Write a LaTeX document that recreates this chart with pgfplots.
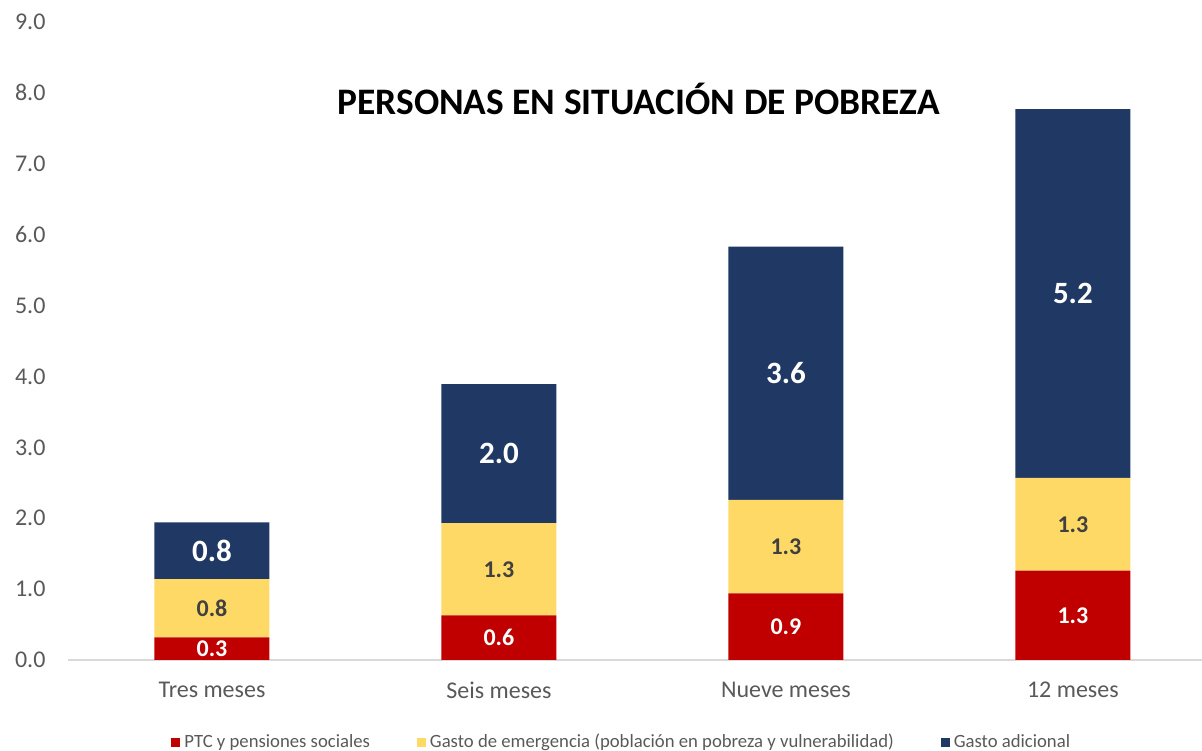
\documentclass[border=0pt]{standalone}
\usepackage{fontspec}
\setmainfont{Carlito}
\usepackage{pgfplots}
\usepackage{pgfplotstable}
\pgfplotsset{compat=1.18}
\definecolor{cred}{HTML}{C00000}
\definecolor{cyel}{HTML}{FFD966}
\definecolor{cnavy}{HTML}{203864}
\definecolor{ctxt}{HTML}{595959}
\definecolor{cdark}{HTML}{404040}
\definecolor{cgrid}{HTML}{D9D9D9}

% columns: a = PTC y pensiones, b = gasto de emergencia, c = gasto adicional
\pgfplotstableread{
x a b c
0 0.32 0.82 0.80
1 0.63 1.30 1.96
2 0.94 1.32 3.57
3 1.26 1.31 5.20
}\pobreza

\pgfplotsset{
  sq/.style={legend image code/.code={\fill[##1,draw=none] (0pt,-2.25pt) rectangle (4.5pt,2.25pt);}},
}

\begin{document}
\begin{tikzpicture}
\begin{axis}[name=ax,
  ybar stacked, bar width=57.5pt,
  scale only axis, width=566.75pt, height=319pt,
  xmin=-0.5, xmax=3.45, ymin=0, ymax=9, enlargelimits=false,
  xtick=data, xticklabels={Tres meses,Seis meses,Nueve meses,12 meses},
  ytick={0,1,...,9},
  yticklabel={\pgfmathprintnumber[fixed,fixed zerofill,precision=1]{\tick}},
  /pgf/number format/assume math mode=true,
  major tick length=0pt,
  axis x line*=bottom, axis y line*=left,
  x axis line style={cgrid,line width=0.75pt},
  y axis line style={draw=none},
  tick label style={text=ctxt,font=\fontsize{12}{14}\selectfont},
  xticklabel style={anchor=center,yshift=-15pt},
  yticklabel style={xshift=-8pt},
  title={PERSONAS EN SITUACIÓN DE POBREZA},
  title style={at={(0.503,0.860)},anchor=center,font=\bfseries\fontsize{18.7}{22}\selectfont},
  legend style={at={(0.489,-0.129)},anchor=center,draw=none,fill=none,
    legend columns=3,font=\fontsize{9.35}{11}\selectfont,text=ctxt,
    /tikz/every even column/.append style={column sep=21.5pt}},
  point meta=explicit symbolic,
  nodes near coords={\pgfmathprintnumber[fixed,fixed zerofill,precision=1]{\pgfplotspointmeta}},
  nodes near coords style={anchor=center},
]
\addplot[fill=cred,draw=none,sq,
  nodes near coords style={text=white,font=\bfseries\fontsize{12}{14}\selectfont}]
  table[x=x,y=a,meta=a]{\pobreza};
\addlegendentry{PTC y pensiones sociales}
\addplot[fill=cyel,draw=none,sq,
  nodes near coords style={text=cdark,font=\bfseries\fontsize{12}{14}\selectfont}]
  table[x=x,y=b,meta=b]{\pobreza};
\addlegendentry{Gasto de emergencia (población en pobreza y vulnerabilidad)}
\addplot[fill=cnavy,draw=none,sq,
  nodes near coords style={text=white,font=\bfseries\fontsize{15.5}{18}\selectfont}]
  table[x=x,y=c,meta=c]{\pobreza};
\addlegendentry{Gasto adicional}
\end{axis}
\pgfresetboundingbox
\path ([xshift=-34.25pt,yshift=-45.5pt]ax.south west) rectangle ([yshift=11pt]ax.north east);
\end{tikzpicture}
\end{document}
